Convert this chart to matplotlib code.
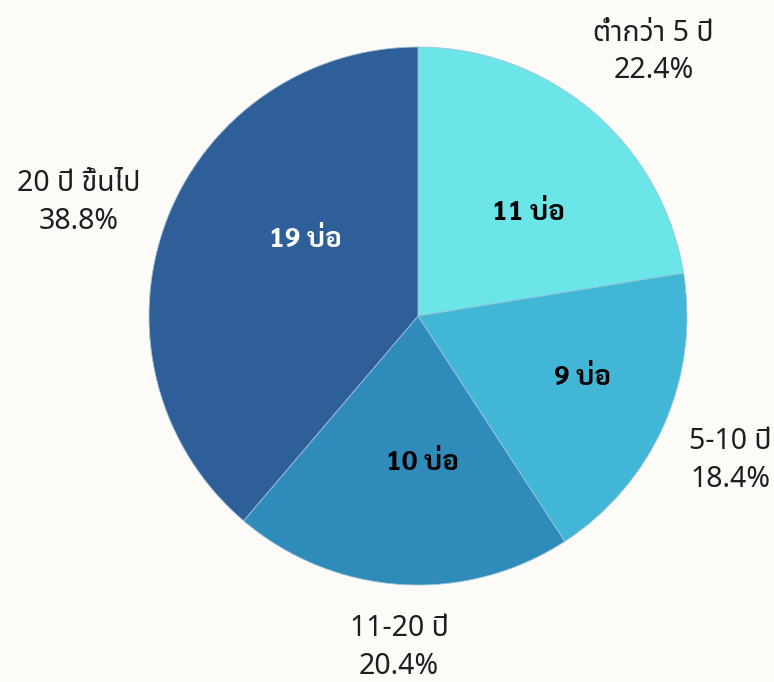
import matplotlib
matplotlib.use('Agg')
import matplotlib.pyplot as plt
from matplotlib import font_manager
import numpy as np

# ข้อมูล
ages = ['ต่ำกว่า 5 ปี', '5-10 ปี', '11-20 ปี', '20 ปี ขึ้นไป']
wells = [11, 9, 10, 19]
colors = ['#6BE5E8', '#42B6D6', '#2E8BBA', '#2F5F98']
inner_text_colors = ['black', 'black', 'black', 'white']

# หาฟอนต์ไทย (ต้องมีตัวหนาด้วย)
fonts = font_manager.fontManager.ttflist
installed = set(f.name for f in fonts)
thai_font = 'DejaVu Sans'
for name in ['Noto Sans Thai', 'Noto Sans Thai UI', 'Sarabun', 'IBM Plex Sans Thai']:
    if name in installed:
        thai_font = name
        break
bold_font = thai_font
for name in ['Noto Sans Thai', 'Noto Sans Thai Looped', 'Sarabun', 'IBM Plex Sans Thai', 'Anuphan']:
    if any(f.name == name and f.weight in (700, 'bold') for f in fonts):
        bold_font = name
        break
plt.rcParams['font.family'] = [thai_font, 'DejaVu Sans']

W, H = 774, 682
fig = plt.figure(figsize=(W / 100, H / 100), dpi=100)
fig.patch.set_facecolor('#FDFBF7')
ax = fig.add_axes([0, 0, 1, 1])

cx, cy, r = 418, H - 316, 269
wedges, _ = ax.pie(wells, colors=colors, startangle=90, counterclock=False,
                   center=(cx, cy), radius=r, frame=True,
                   wedgeprops=dict(edgecolor='#9FC3DA', linewidth=0.6))
ax.set_xlim(0, W)
ax.set_ylim(0, H)
ax.set_aspect('equal')
ax.axis('off')

total = sum(wells)
# ระยะ/มุมของป้ายชื่อ (เทียบกับรัศมี)
out_dist = [1.315, 1.28, 1.235, 1.33]
out_nudge = [-1.3, -0.9, 0.4, 1.7]
in_dist = [0.56, 0.655, 0.547, 0.506]
in_nudge = [-6.5, 3.3, 5.3, -13.7]
for i, w in enumerate(wedges):
    mid = (w.theta1 + w.theta2) / 2
    a = np.deg2rad(mid + out_nudge[i])
    x = cx + out_dist[i] * r * np.cos(a)
    y = cy + out_dist[i] * r * np.sin(a)
    pct = wells[i] / total * 100
    ax.text(x, y, '%s\n%.1f%%' % (ages[i], pct), ha='center', va='center',
            fontsize=20.5, color='#1E1E1E', fontweight='light', linespacing=1.4)
    a = np.deg2rad(mid + in_nudge[i])
    x = cx + in_dist[i] * r * np.cos(a)
    y = cy + in_dist[i] * r * np.sin(a)
    ax.text(x, y, '%d บ่อ' % wells[i], ha='center', va='center',
            fontsize=20, fontweight='bold', color=inner_text_colors[i],
            family=[bold_font, 'DejaVu Sans'])

fig.savefig('out.png', facecolor=fig.get_facecolor())
